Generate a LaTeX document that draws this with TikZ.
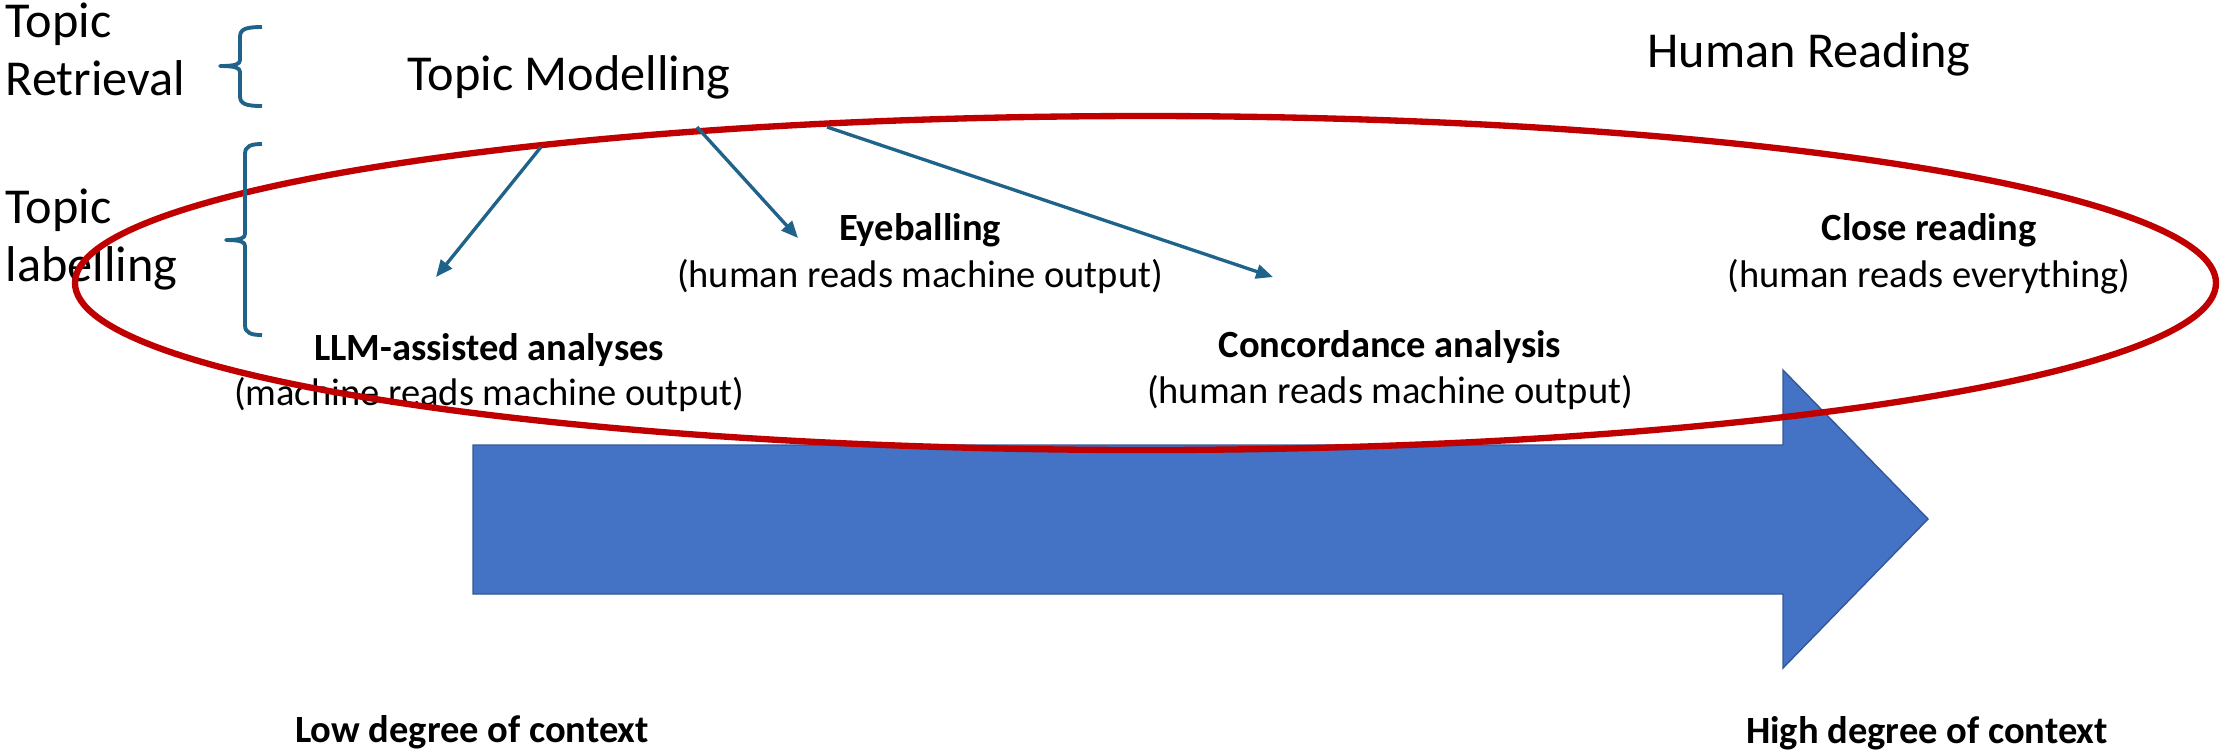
\documentclass[tikz,border=0pt]{standalone}
\usepackage{fontspec}
\setmainfont{Carlito}
\usetikzlibrary{arrows.meta}

\definecolor{linkteal}{RGB}{31,99,138}
\definecolor{ovalred}{RGB}{192,0,0}
\definecolor{flowblue}{RGB}{68,114,196}
\definecolor{flowedge}{RGB}{52,88,150}

% left curly bracket: end x, bar x, tip x, top y, tip y, bottom y
\newcommand\drawleftbracket[6]{%
  \draw[bracket] (#1,#4) .. controls ({#2+6},#4) and (#2,{#4+2}) .. (#2,{#4+10})
    -- (#2,{#5-6}) .. controls (#2,{#5-2}) and ({#2-4},#5) .. (#3,#5)
    .. controls ({#2-4},#5) and (#2,{#5+2}) .. (#2,{#5+6})
    -- (#2,{#6-10}) .. controls (#2,{#6-2}) and ({#2+6},#6) .. (#1,#6);}

\begin{document}
\begin{tikzpicture}[x=0.01cm, y=-0.01cm,
  bigtext/.style={inner sep=0pt, font=\fontsize{14.3pt}{16pt}\selectfont},
  headtext/.style={inner sep=0pt, font=\fontsize{10.95pt}{13pt}\selectfont\bfseries},
  subtext/.style={inner sep=0pt, font=\fontsize{10.95pt}{13pt}\selectfont},
  linkarrow/.style={draw=linkteal, line width=0.95pt, -{Triangle[length=4.8pt, width=4pt]}},
  bracket/.style={draw=linkteal, line width=1.1pt, line join=round, line cap=butt},
  oval/.style={draw=ovalred, line width=1.8pt},
  bigarrow/.style={fill=flowblue, draw=flowedge, line width=0.4pt}]

\useasboundingbox (0,0) rectangle (2220,753);

% broad arrow from low to high degree of context
\draw[bigarrow] (473,445) -- (1783,445) -- (1783,370) -- (1928,519)
  -- (1783,668) -- (1783,594) -- (473,594) -- cycle;

% category labels on the left
\node[bigtext, anchor=base west] (retr1) at (5,37) {Topic};
\node[bigtext, anchor=base west] (retr2) at (5,95) {Retrieval};
\node[bigtext, anchor=base west] (lab1) at (5,223) {Topic};
\node[bigtext, anchor=base west] (lab2) at (5,281) {labelling};

% headings
\node[bigtext, anchor=base] (tm) at (569,90) {Topic Modelling};
\node[bigtext, anchor=base] (hr) at (1809,67) {Human Reading};

% reading modes
\node[headtext, anchor=base] (llm) at (489,360) {LLM-assisted analyses};
\node[subtext, anchor=base] (llm-sub) at (489,405) {(machine reads machine output)};
\node[headtext, anchor=base] (eye) at (920,240) {Eyeballing};
\node[subtext, anchor=base] (eye-sub) at (920,287) {(human reads machine output)};
\node[headtext, anchor=base] (conc) at (1390,357) {Concordance analysis};
\node[subtext, anchor=base] (conc-sub) at (1390,403) {(human reads machine output)};
\node[headtext, anchor=base] (close) at (1929,240) {Close reading};
\node[subtext, anchor=base] (close-sub) at (1929,287) {(human reads everything)};

% scale ends
\node[headtext, anchor=base] (low) at (472,742) {Low degree of context};
\node[headtext, anchor=base] (high) at (1927,743) {High degree of context};

% oval around the labelling methods
\coordinate (oval-c) at (1145.5,283);
\draw[oval] (oval-c) ellipse [x radius=1070.5, y radius=167];

% arrows from topic modelling to the methods
\coordinate (tm-a) at (541,147);
\coordinate (tm-b) at (697,127);
\coordinate (tm-c) at (827,127);
\coordinate (llm-in) at (436,277);
\coordinate (eye-in) at (798,238);
\coordinate (conc-in) at (1273,277);
\draw[linkarrow] (tm-a) -- (llm-in);
\draw[linkarrow] (tm-b) -- (eye-in);
\draw[linkarrow] (tm-c) -- (conc-in);

% brackets grouping the left labels
\drawleftbracket{262}{240}{220}{27}{66}{106}
\drawleftbracket{262}{245}{226}{144}{240}{335}

\end{tikzpicture}
\end{document}
